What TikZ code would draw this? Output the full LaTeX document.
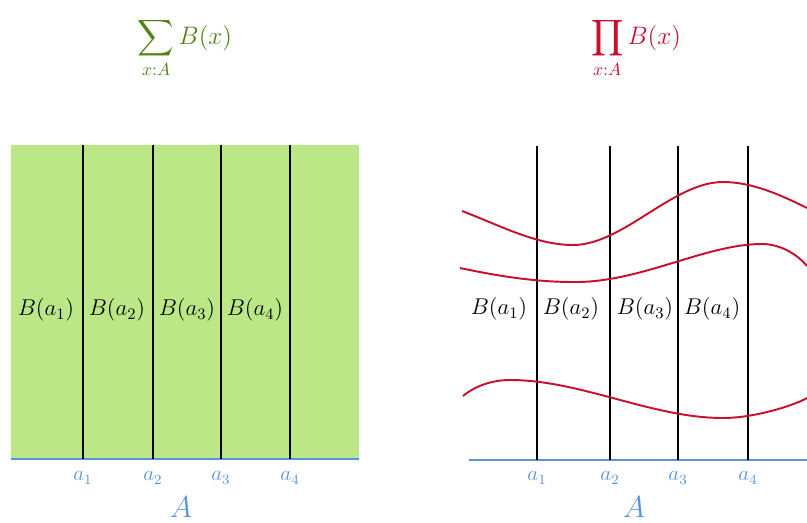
\documentclass[tikz,border=0pt]{standalone}
\usepackage{fix-cm}
\usepackage{amsmath}
\usepackage{exscale}
\usetikzlibrary{positioning}
\definecolor{cfill}{RGB}{187,231,135}
\definecolor{csum}{RGB}{80,130,20}
\definecolor{cprod}{RGB}{200,16,46}
\definecolor{caxis}{RGB}{88,148,222}

\begin{document}
\begin{tikzpicture}[x=0.02cm,y=-0.02cm,
  fiber/.style={draw=black,line width=1.1pt},
  axis/.style={draw=caxis,line width=1.1pt},
  section/.style={draw=cprod,line width=1.1pt},
  blabel/.style={font=\fontsize{13}{15}\selectfont},
  alabel/.style={font=\large,text=caxis},
  head/.style={font=\Large},
  every node/.style={inner sep=1pt}]
\useasboundingbox (0,0) rectangle (807,522);

% ===== left: sum =====
\node[head,text=csum] (sum) at (185,48) {$\displaystyle\sum_{x{:}A} B(x)$};
\fill[cfill] (11,145) rectangle (359,459);
\draw[axis] (11,459) -- (359,459);
\foreach \i/\x/\lx in {1/83/46,2/153/117,3/221/187,4/290/255}{
  \draw[fiber] (\x,145) -- (\x,459);
  \node[blabel] (sb\i) at (\lx,310) {$B(a_\i)$};
  \node[alabel] (sa\i) at (\x,478) {$a_\i$};
}
\node[alabel,font=\LARGE] (sA) at (181,507) {$A$};

% ===== right: product =====
\node[head,text=cprod] (prod) at (636,48) {$\displaystyle\prod_{x{:}A} B(x)$};
\draw[axis] (469,460) -- (807,460);
\foreach \i/\x/\lx in {1/537/499,2/610/571,3/678/645,4/748/712}{
  \draw[fiber] (\x,146) -- (\x,460);
  \node[blabel] (pb\i) at (\lx,309) {$B(a_\i)$};
  \node[alabel] (pa\i) at (\x,478) {$a_\i$};
}
\node[alabel,font=\LARGE] (pA) at (634,507) {$A$};

% sections
\draw[section] (462,211) .. controls (499,225) and (536,245) .. (573,245)
  .. controls (623,245) and (673,182) .. (723,182)
  .. controls (751,182) and (779,194) .. (807,208);
\draw[section] (460,268) .. controls (498,276) and (535,282) .. (573,282)
  .. controls (640,283) and (705,244) .. (762,244)
  .. controls (780,244) and (797,254) .. (807,266);
\draw[section] (463,396) .. controls (475,386) and (492,380) .. (510,380)
  .. controls (581,380) and (652,418) .. (723,418)
  .. controls (755,418) and (795,405) .. (807,398);
\end{tikzpicture}
\end{document}
